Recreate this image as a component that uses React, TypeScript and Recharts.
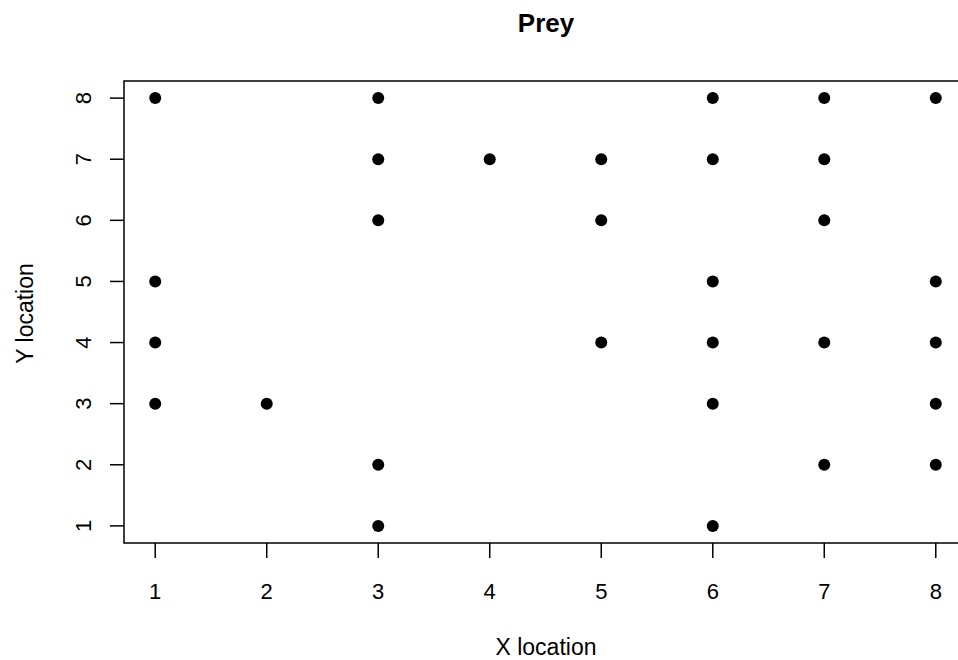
import { ScatterChart, Scatter, XAxis, YAxis, ReferenceArea } from 'recharts'

const preyX = [1, 1, 1, 1, 2, 3, 3, 3, 3, 3, 4, 5, 5, 5, 6, 6, 6, 6, 6, 6, 7, 7, 7, 7, 7, 8, 8, 8, 8, 8]
const preyY = [8, 5, 4, 3, 3, 8, 7, 6, 2, 1, 7, 7, 6, 4, 8, 7, 5, 4, 3, 1, 8, 7, 6, 4, 2, 8, 5, 4, 3, 2]
const xTicks = [1, 2, 3, 4, 5, 6, 7, 8]
const yTicks = [1, 2, 3, 4, 5, 6, 7, 8]

const points = preyX.map((x, i) => ({ x, y: preyY[i] }))

const font = '"Liberation Sans", Arial, sans-serif'

function XTick({ x, y, payload }) {
    return (
        <text x={x} y={y + 39} textAnchor="middle" fontSize={22} fontFamily={font} fill="#000">
            {payload.value}
        </text>
    )
}

function YTick({ y, payload }) {
    return (
        <text x={91} y={y} transform={`rotate(-90, 91, ${y})`} textAnchor="middle"
            fontSize={22} fontFamily={font} fill="#000">
            {payload.value}
        </text>
    )
}

function Dot({ cx, cy }) {
    return <circle cx={cx} cy={cy} r={6} fill="#000" />
}

export default function App() {
    return (
        <div style={{ position: 'fixed', left: 0, top: 0, width: 958, height: 660, overflow: 'hidden', background: '#fff', fontFamily: font, lineHeight: 'normal' }}>
            <div style={{ position: 'absolute', left: 446, width: 200, top: 8, textAlign: 'center', fontSize: 26, fontWeight: 'bold' }}>Prey</div>
            <div style={{ position: 'absolute', left: 446, width: 200, top: 634, textAlign: 'center', fontSize: 23 }}>X location</div>
            <div style={{ position: 'absolute', left: -75, width: 200, top: 300, textAlign: 'center', fontSize: 23, transform: 'rotate(-90deg)' }}>Y location</div>
            <ScatterChart width={980} height={660} margin={{ top: 81, right: 13, left: 0, bottom: 0 }}>
                <XAxis type="number" dataKey="x" domain={[0.72, 8.28]} ticks={xTicks} height={117}
                    axisLine={false} tickSize={15} tickLine={{ stroke: '#000', strokeWidth: 1.5 }} tick={XTick} />
                <YAxis type="number" dataKey="y" domain={[0.72, 8.28]} ticks={yTicks} width={124}
                    axisLine={false} tickSize={14} tickLine={{ stroke: '#000', strokeWidth: 1.5 }} tick={YTick} />
                <ReferenceArea x1={0.72} x2={8.28} y1={0.72} y2={8.28} fill="none" stroke="#000" strokeWidth={1.5} fillOpacity={0} />
                <Scatter data={points} shape={Dot} isAnimationActive={false} />
            </ScatterChart>
        </div>
    )
}
